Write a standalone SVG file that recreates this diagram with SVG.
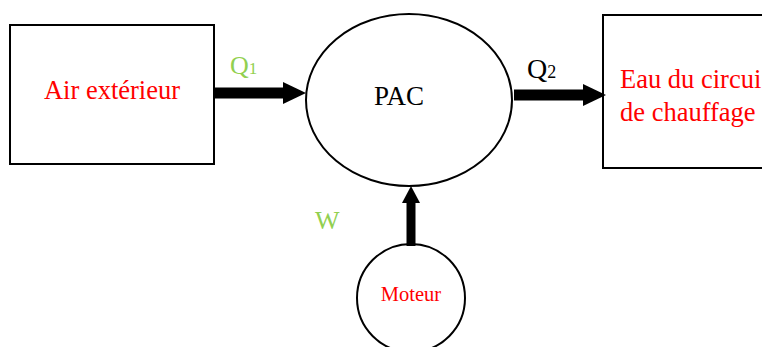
<svg xmlns="http://www.w3.org/2000/svg" width="762" height="347" viewBox="0 0 762 347">
<style>
.box{fill:#fff;stroke:#000;stroke-width:2}
.t{font-family:"Liberation Serif","Times New Roman",serif}
.red{fill:#ff0000}
.grn{fill:#92d050}
.shaft{stroke:#000;fill:none}
</style>
<rect width="762" height="347" fill="#fff"/>
<g id="air">
<rect class="box" x="10" y="25" width="204" height="139"/>
<text class="t red" x="112" y="99" font-size="26.5" text-anchor="middle">Air extérieur</text>
</g>
<g id="pac">
<ellipse class="box" cx="409" cy="100" rx="103" ry="86"/>
<text class="t" x="399" y="105" font-size="27" text-anchor="middle">PAC</text>
</g>
<g id="eau">
<rect class="box" x="603" y="15" width="170" height="153"/>
<text class="t red" x="620" y="88" font-size="26.5">Eau du circui</text>
<text class="t red" x="620" y="121" font-size="26.5">de chauffage</text>
</g>
<g id="moteur">
<circle class="box" cx="411" cy="298" r="54"/>
<text class="t red" x="411" y="301" font-size="20.5" text-anchor="middle">Moteur</text>
</g>
<g id="connectors">
<line class="shaft" x1="215" y1="93" x2="284" y2="93" stroke-width="11"/>
<polygon points="283,82 306,93 283,104" fill="#000"/>
<line class="shaft" x1="514" y1="95" x2="585" y2="95" stroke-width="11"/>
<polygon points="583,84 606,95 583,106" fill="#000"/>
<line class="shaft" x1="411" y1="246" x2="411" y2="201" stroke-width="9"/>
<polygon points="402,203 411,186 420,203" fill="#000"/>
</g>
<g id="labels">
<text class="t grn" x="230" y="74" font-size="26">Q<tspan font-size="17">1</tspan></text>
<text class="t" x="527" y="78" font-size="28">Q<tspan font-size="18">2</tspan></text>
<text class="t grn" x="315" y="229" font-size="26">W</text>
</g>
</svg>
